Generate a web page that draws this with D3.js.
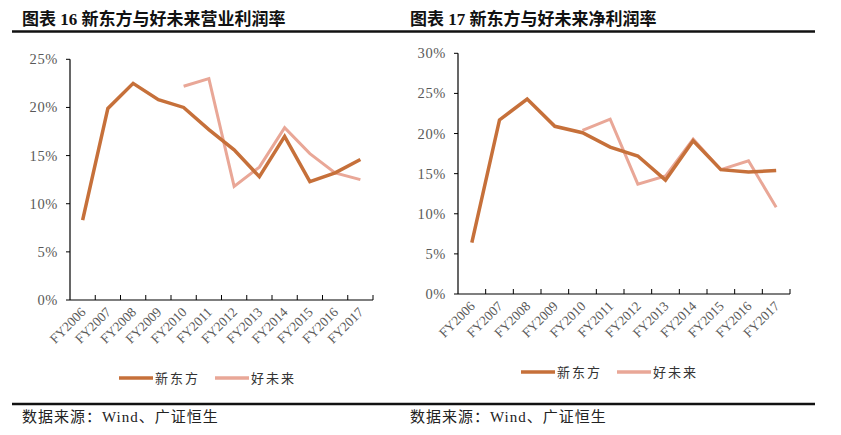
<!DOCTYPE html>
<html>
<head>
<meta charset="utf-8">
<script src="https://cdn.jsdelivr.net/npm/d3@7"></script>
<style>
  body { margin: 0; background: #fff; }
  svg { display: block; font-family: "Liberation Serif", "Noto Sans CJK SC", serif; }
</style>
</head>
<body>
<div id="chart"></div>
<script>
// fiscal years on the x axis
const years = ['FY2006','FY2007','FY2008','FY2009','FY2010','FY2011','FY2012','FY2013','FY2014','FY2015','FY2016','FY2017']

// operating margin (left chart), %
const nodOpMargin = [8.3, 19.9, 22.5, 20.8, 20.0, 17.7, 15.6, 12.8, 17.0, 12.3, 13.2, 14.6]
const talOpMargin = [null, null, null, null, 22.2, 23.0, 11.8, 13.8, 17.9, 15.2, 13.2, 12.5]

// net margin (right chart), %
const nodNetMargin = [6.4, 21.7, 24.3, 20.9, 20.1, 18.3, 17.2, 14.2, 19.1, 15.5, 15.2, 15.4]
const talNetMargin = [null, null, null, null, 20.4, 21.8, 13.7, 14.7, 19.3, 15.5, 16.6, 10.8]

const leftTicks = [0, 5, 10, 15, 20, 25]
const rightTicks = [0, 5, 10, 15, 20, 25, 30]

const seriesNames = ['新东方', '好未来']
const colors = ['#C6703A', '#E9A797']

const W = 841, H = 435
const svg = d3.select('#chart').append('svg')
    .attr('width', W)
    .attr('height', H)

// header + footer rules
svg.append('line').attr('x1', 12).attr('x2', 815).attr('y1', 31.5).attr('y2', 31.5)
    .attr('stroke', '#111').attr('stroke-width', 2.5)
svg.append('line').attr('x1', 12).attr('x2', 815).attr('y1', 404).attr('y2', 404)
    .attr('stroke', '#111').attr('stroke-width', 2.5)

function drawPanel(opts){
    const {title, titleX, left, right, top, bottom, yMax, ticks, nod, tal, legendX, legendY} = opts

    svg.append('text')
        .attr('x', titleX).attr('y', 25)
        .attr('font-size', 17).attr('font-weight', 'bold')
        .attr('fill', '#111')
        .text(title)

    svg.append('text')
        .attr('x', titleX).attr('y', 422)
        .attr('font-size', 15).attr('fill', '#222')
        .attr('letter-spacing', 1)
        .text('数据来源：Wind、广证恒生')

    const x = d3.scaleBand().domain(years).range([left, right])
    const y = d3.scaleLinear().domain([0, yMax]).range([bottom, top])

    const g = svg.append('g')

    // y axis
    g.append('line').attr('x1', left).attr('x2', left).attr('y1', top).attr('y2', bottom)
        .attr('stroke', '#000').attr('stroke-width', 1.2)
    g.selectAll('.ytick').data(ticks).join('line')
        .attr('x1', left - 4).attr('x2', left)
        .attr('y1', d => y(d)).attr('y2', d => y(d))
        .attr('stroke', '#000').attr('stroke-width', 1)
    g.selectAll('.ylab').data(ticks).join('text')
        .attr('x', left - 12).attr('y', d => y(d) + 5)
        .attr('text-anchor', 'end')
        .attr('font-size', 14.5).attr('fill', '#595959')
        .attr('letter-spacing', 0.6)
        .text(d => d + '%')

    // x axis with boundary ticks pointing up
    g.append('line').attr('x1', left).attr('x2', right).attr('y1', bottom).attr('y2', bottom)
        .attr('stroke', '#000').attr('stroke-width', 1.2)
    g.selectAll('.xtick').data(years.slice(1).concat(['end'])).join('line')
        .attr('x1', d => d === 'end' ? right : x(d))
        .attr('x2', d => d === 'end' ? right : x(d))
        .attr('y1', bottom - 5).attr('y2', bottom)
        .attr('stroke', '#000').attr('stroke-width', 1)
    g.selectAll('.xlab').data(years).join('text')
        .attr('text-anchor', 'end')
        .attr('font-size', 13.5).attr('fill', '#595959')
        .attr('transform', d => `translate(${x(d) + x.bandwidth()/2 + 4},${bottom + 13}) rotate(-45)`)
        .text(d => d)

    const line = d3.line()
        .defined(d => d[1] != null)
        .x(d => x(d[0]) + x.bandwidth()/2)
        .y(d => y(d[1]))

    ;[tal, nod].forEach((vals, i) => {
        g.append('path')
            .datum(years.map((yr, j) => [yr, vals[j]]))
            .attr('d', line)
            .attr('fill', 'none')
            .attr('stroke', i === 0 ? colors[1] : colors[0])
            .attr('stroke-width', i === 0 ? 3 : 3.5)
            .attr('stroke-linejoin', 'miter')
    })

    // legend
    seriesNames.forEach((name, i) => {
        const lx = legendX + i * 96
        g.append('line').attr('x1', lx).attr('x2', lx + 34)
            .attr('y1', legendY).attr('y2', legendY)
            .attr('stroke', colors[i]).attr('stroke-width', 3.5)
        g.append('text').attr('x', lx + 36).attr('y', legendY + 5)
            .attr('font-size', 13).attr('fill', '#333')
            .attr('letter-spacing', 2)
            .text(name)
    })
}

drawPanel({
    title: '图表 16 新东方与好未来营业利润率', titleX: 22,
    left: 70, right: 373, top: 59.3, bottom: 300, yMax: 25, ticks: leftTicks,
    nod: nodOpMargin, tal: talOpMargin, legendX: 119, legendY: 378
})

drawPanel({
    title: '图表 17 新东方与好未来净利润率', titleX: 410,
    left: 458, right: 790, top: 53.3, bottom: 294, yMax: 30, ticks: rightTicks,
    nod: nodNetMargin, tal: talNetMargin, legendX: 521, legendY: 372
})
</script>
</body>
</html>
